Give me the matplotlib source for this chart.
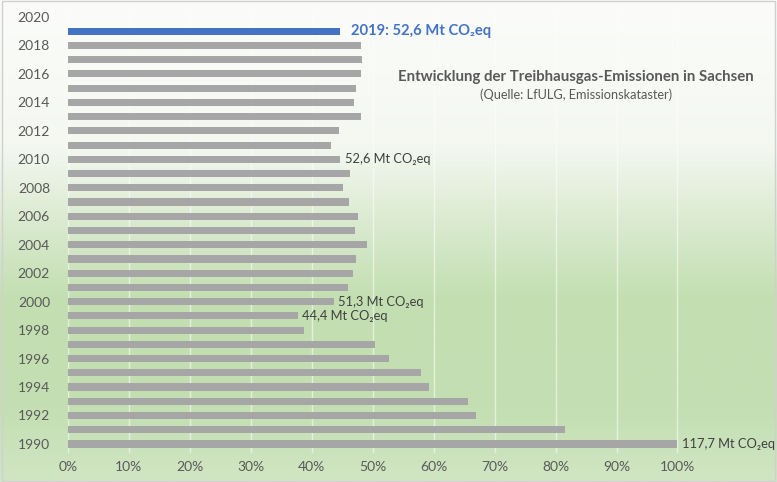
import numpy as np
import matplotlib.pyplot as plt
from matplotlib.colors import LinearSegmentedColormap

plt.rcParams['font.family'] = ['Lato', 'DejaVu Sans']

# Daten: Anteil am Wert von 1990 (117,7 Mt CO2eq) in Prozent
jahre = list(range(1990, 2020))
anteil = [100.0, 81.6, 67.0, 65.7, 59.3, 57.9, 52.7, 50.3, 38.7, 37.7,
          43.6, 46.0, 46.7, 47.2, 49.0, 47.1, 47.5, 46.1, 45.1, 46.3,
          44.7, 43.1, 44.4, 48.0, 46.9, 47.2, 48.1, 48.3, 48.1, 44.7]
y_ticks = list(range(1990, 2021, 2))
x_ticks = list(range(0, 101, 10))

# Beschriftungen an einzelnen Balken
label_jahre = [1990, 1999, 2000, 2010]
label_texte = ['117,7 Mt CO₂eq', '44,4 Mt CO₂eq', '51,3 Mt CO₂eq', '52,6 Mt CO₂eq']

fig = plt.figure(figsize=(7.77, 4.82), dpi=100)

# Hintergrund mit Farbverlauf (oben weiss, unten hellgruen)
bg = fig.add_axes([0, 0, 1, 1], zorder=0)
cmap = LinearSegmentedColormap.from_list('bg', [
    (0.0, '#fbfcfa'), (0.30, '#f4f8f1'), (0.45, '#dcebd2'),
    (0.62, '#c3dfb1'), (0.85, '#c4dfb3'), (1.0, '#d0e6c3')])
grad = np.linspace(0, 1, 300).reshape(-1, 1)
bg.imshow(grad, aspect='auto', cmap=cmap, extent=[0, 1, 0, 1], origin='upper')
bg.set_xlim(0, 1)
bg.set_ylim(0, 1)
bg.axis('off')
bg.add_patch(plt.Rectangle((0.002, 0.003), 0.996, 0.994, fill=False,
                           edgecolor='#d0d0d0', linewidth=1))

ax = fig.add_axes([68 / 777, 0.0612, 707 / 777, 0.9124], zorder=1)
ax.patch.set_alpha(0)

farben = ['#a6a6a6'] * (len(jahre) - 1) + ['#4472c4']
ax.barh(jahre, anteil, height=0.5, color=farben, zorder=3)

ax.set_xlim(0, 116)
ax.set_ylim(1989.4, 2020.3)
ax.set_xticks(x_ticks)
ax.set_xticklabels([f'{t}%' for t in x_ticks])
ax.set_yticks(y_ticks)
ax.tick_params(axis='both', length=0, labelsize=10, labelcolor='#595959')
ax.tick_params(axis='y', pad=13)
ax.tick_params(axis='x', pad=6)
ax.grid(axis='x', color='#ffffff', linewidth=1, alpha=0.55, zorder=1)
for s in ax.spines.values():
    s.set_visible(False)

for j, t in zip(label_jahre, label_texte):
    w = anteil[jahre.index(j)]
    ax.text(w + 0.7, j, t, va='center', ha='left', fontsize=9.3, color='#404040')

ax.text(anteil[-1] + 1.8, 2019, '2019: 52,6 Mt CO₂eq', va='center', ha='left',
        fontsize=10.6, fontweight='bold', color='#4472c4')

fig.text(576 / 777, 1 - 77 / 482, 'Entwicklung der Treibhausgas-Emissionen in Sachsen',
         ha='center', va='center', fontsize=10.8, fontweight='bold', color='#595959')
fig.text(576 / 777, 1 - 95 / 482, '(Quelle: LfULG, Emissionskataster)',
         ha='center', va='center', fontsize=9.2, color='#595959')

fig.savefig('out.png', dpi=100)
